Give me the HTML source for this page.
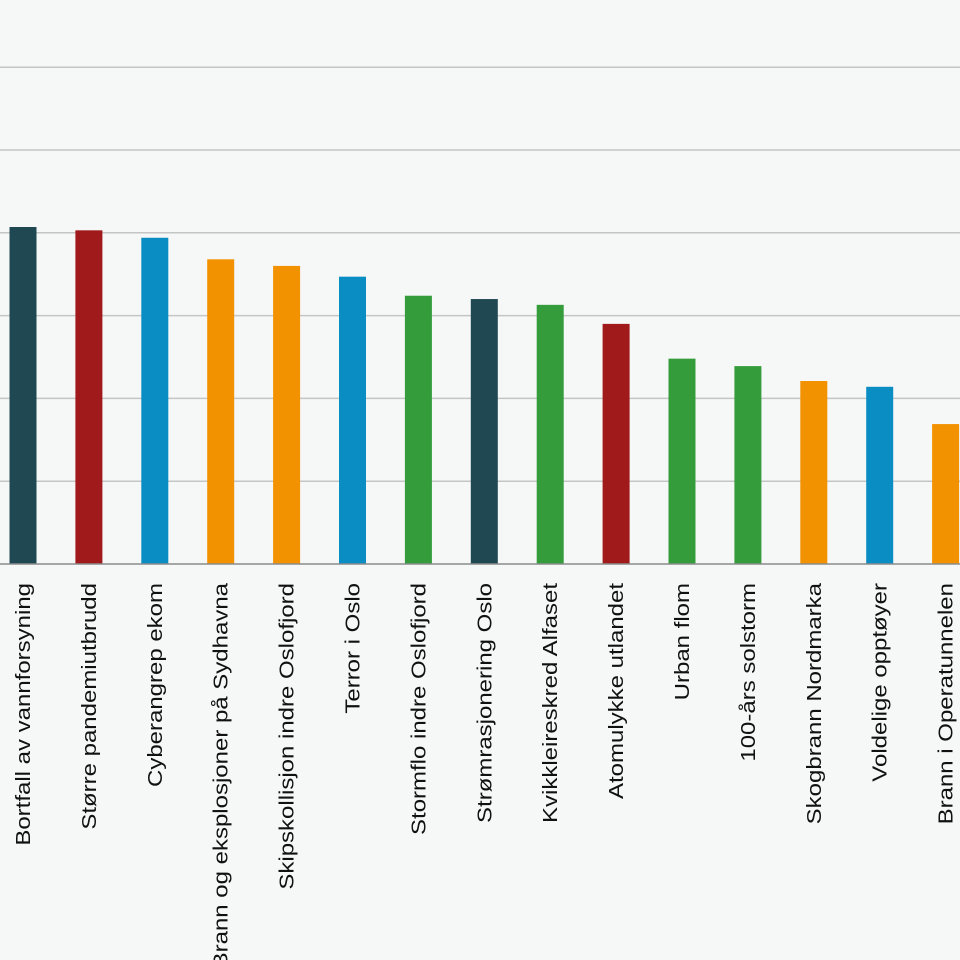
<!DOCTYPE html>
<html><head><meta charset="utf-8"><style>
html,body{margin:0;padding:0;background:#f6f7f7;}
svg{display:block;}
text{font-family:"Liberation Sans",sans-serif;fill:#111;}
</style></head><body>
<svg id="chart" width="960" height="960" viewBox="0 0 960 960"></svg>
<script>
const categories=["Bortfall av vannforsyning","Større pandemiutbrudd","Cyberangrep ekom","Brann og eksplosjoner på Sydhavna","Skipskollisjon indre Oslofjord","Terror i Oslo","Stormflo indre Oslofjord","Strømrasjonering Oslo","Kvikkleireskred Alfaset","Atomulykke utlandet","Urban flom","100-års solstorm","Skogbrann Nordmarka","Voldelige opptøyer","Brann i Operatunnelen"];
const values=[4.07,4.03,3.94,3.68,3.60,3.47,3.24,3.20,3.13,2.90,2.48,2.39,2.21,2.14,1.69];
const colorKeys=["teal","red","blue","orange","orange","blue","green","teal","green","red","green","green","orange","blue","orange"];
const gridTicks=[1,2,3,4,5,6];
const palette={teal:"#1f4853",red:"#a0191b",blue:"#0a8dc3",orange:"#f39200",green:"#349c3b"};
const svg=document.getElementById('chart');
const NS="http://www.w3.org/2000/svg";
const y0=564, unit=82.8, x0=23, step=65.9, bw=27;
const yS=v=>y0-v*unit, xS=i=>x0+i*step;
function mk(t,a){const e=document.createElementNS(NS,t);for(const k in a)e.setAttribute(k,a[k]);svg.appendChild(e);return e;}
gridTicks.forEach((t,i)=>{const l=mk('line',{x1:0,x2:960,y1:yS(t),y2:yS(t),stroke:'#c4c6c6','stroke-width':1.5});

});
values.forEach((v,i)=>{const r=mk('rect',{x:xS(i)-bw/2,y:yS(v),width:bw,height:v*unit,fill:palette[colorKeys[i]]});


const cx=xS(i)+7;
const t=mk('text',{x:0,y:0,'font-size':20,'text-anchor':'end',transform:`translate(${cx},583) rotate(-90) scale(1.2,1)`});
t.textContent=categories[i];

});
const b=mk('line',{x1:0,x2:960,y1:y0,y2:y0,stroke:'#8a8c8c','stroke-width':1.5});


</script>
</body></html>
